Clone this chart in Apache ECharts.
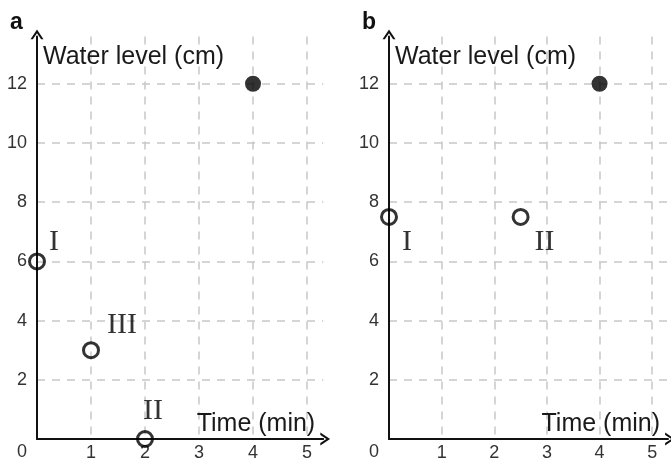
<!DOCTYPE html>
<html>

<head>
    <meta charset="utf-8">
    <title>Water level</title>
    <script src="https://cdn.jsdelivr.net/npm/echarts@6/dist/echarts.min.js"></script>
    <style>
        html, body {
            margin: 0;
            padding: 0;
            background: #fff;
        }

        #main {
            width: 671px;
            height: 463px;
        }
    </style>
</head>

<body>
    <div id="main"></div>
    <script>
        // data
        var panelNames = ['a', 'b'];
        var xTickLabels = [1, 2, 3, 4, 5];
        var yTickLabels = [0, 2, 4, 6, 8, 10, 12];

        // panel a
        var aOpenPoints = [[0, 6], [1, 3], [2, 0]];
        var aOpenNames = ['I', 'III', 'II'];
        var aFilledPoints = [[4, 12]];

        // panel b
        var bOpenPoints = [[0, 7.5], [2.5, 7.5]];
        var bOpenNames = ['I', 'II'];
        var bFilledPoints = [[4, 12]];

        // label offsets (px) for the roman numerals
        var aLabelOffsets = [[17, -19], [31, -25], [8, -28]];
        var bLabelOffsets = [[18, 25], [24, 25]];

        var sans = 'Liberation Sans, Arial, sans-serif';
        var serif = 'Liberation Serif, Times New Roman, serif';

        // open chevron arrow head
        var arrowPath = 'path://M0,9 L6,0 L12,9 L9.8,9 L6,3.4 L2.2,9 Z';

        function makeX(gridIndex) {
            return {
                type: 'value',
                gridIndex: gridIndex,
                min: 0,
                max: 5.3,
                interval: 1,
                name: 'Time (min)',
                nameLocation: 'end',
                nameGap: -8,
                nameTextStyle: {
                    fontFamily: sans,
                    fontSize: 25,
                    color: '#1a1a1a',
                    align: 'right',
                    verticalAlign: 'bottom',
                    lineHeight: 30
                },
                axisLine: {
                    lineStyle: { color: '#111', width: 2 },
                    symbol: ['none', arrowPath],
                    symbolSize: [13, 10],
                    symbolOffset: [0, 2]
                },
                axisTick: { show: false },
                axisLabel: {
                    margin: 5,
                    fontFamily: sans,
                    fontSize: 18,
                    color: '#333',
                    formatter: function (v) {
                        return xTickLabels.indexOf(v) >= 0 ? String(v) : '';
                    }
                },
                splitLine: {
                    show: true,
                    showMinLine: false,
                    showMaxLine: false,
                    lineStyle: { color: '#c8c8c8', width: 1.5, type: [8, 7] }
                }
            };
        }

        function makeY(gridIndex) {
            return {
                type: 'value',
                gridIndex: gridIndex,
                min: 0,
                max: 13.6,
                interval: 2,
                name: 'Water level (cm)',
                nameLocation: 'end',
                nameGap: -21,
                nameTextStyle: {
                    fontFamily: sans,
                    fontSize: 25,
                    color: '#1a1a1a',
                    align: 'left',
                    verticalAlign: 'middle',
                    padding: [0, 0, 0, 6]
                },
                axisLine: {
                    lineStyle: { color: '#111', width: 2 },
                    symbol: ['none', arrowPath],
                    symbolSize: [13, 10],
                    symbolOffset: [0, 2]
                },
                axisTick: { show: false },
                axisLabel: {
                    margin: 10,
                    fontFamily: sans,
                    fontSize: 18,
                    color: '#333',
                    formatter: function (v) {
                        if (yTickLabels.indexOf(v) < 0) return '';
                        return v === 0 ? '{z|0}' : String(v);
                    },
                    rich: {
                        z: { fontFamily: sans, fontSize: 18, color: '#333', padding: [26, 0, 0, 0] }
                    }
                },
                splitLine: {
                    show: true,
                    showMinLine: false,
                    showMaxLine: false,
                    lineStyle: { color: '#c8c8c8', width: 1.5, type: [8, 7] }
                }
            };
        }

        function openSeries(idx, points, names, offsets) {
            return {
                type: 'scatter',
                xAxisIndex: idx,
                yAxisIndex: idx,
                clip: false,
                symbol: 'circle',
                symbolSize: 15,
                itemStyle: { color: 'rgba(0,0,0,0)', borderColor: '#000', borderWidth: 3 },
                data: points.map(function (p, i) {
                    return {
                        name: names[i],
                        value: p,
                        label: { offset: offsets[i] }
                    };
                }),
                label: {
                    show: true,
                    position: 'inside',
                    formatter: '{b}',
                    fontFamily: serif,
                    fontSize: 30,
                    color: '#000',
                    align: 'center',
                    verticalAlign: 'middle'
                },
                emphasis: { disabled: true }
            };
        }

        function filledSeries(idx, points) {
            return {
                type: 'scatter',
                xAxisIndex: idx,
                yAxisIndex: idx,
                clip: false,
                symbol: 'circle',
                symbolSize: 16,
                itemStyle: { color: '#000' },
                data: points,
                emphasis: { disabled: true }
            };
        }

        var chartDom = document.getElementById('main');
        var myChart = echarts.init(chartDom, null, { renderer: 'canvas' });
        var option;

        option = {
            backgroundColor: '#fff',
            animation: false,
            title: [
                {
                    text: panelNames[0], left: 5, top: 6,
                    textStyle: { fontFamily: sans, fontSize: 23, fontWeight: 'bold', color: '#111' }
                },
                {
                    text: panelNames[1], left: 357, top: 6,
                    textStyle: { fontFamily: sans, fontSize: 23, fontWeight: 'bold', color: '#111' }
                }
            ],
            grid: [
                { left: 37, top: 36.4, width: 286.2, height: 402.6 },
                { left: 389, top: 36.4, width: 286.2, height: 402.6 }
            ],
            xAxis: [makeX(0), makeX(1)],
            yAxis: [makeY(0), makeY(1)],
            series: [
                openSeries(0, aOpenPoints, aOpenNames, aLabelOffsets),
                filledSeries(0, aFilledPoints),
                openSeries(1, bOpenPoints, bOpenNames, bLabelOffsets),
                filledSeries(1, bFilledPoints)
            ]
        };

        option && myChart.setOption(option);
    </script>
</body>

</html>
